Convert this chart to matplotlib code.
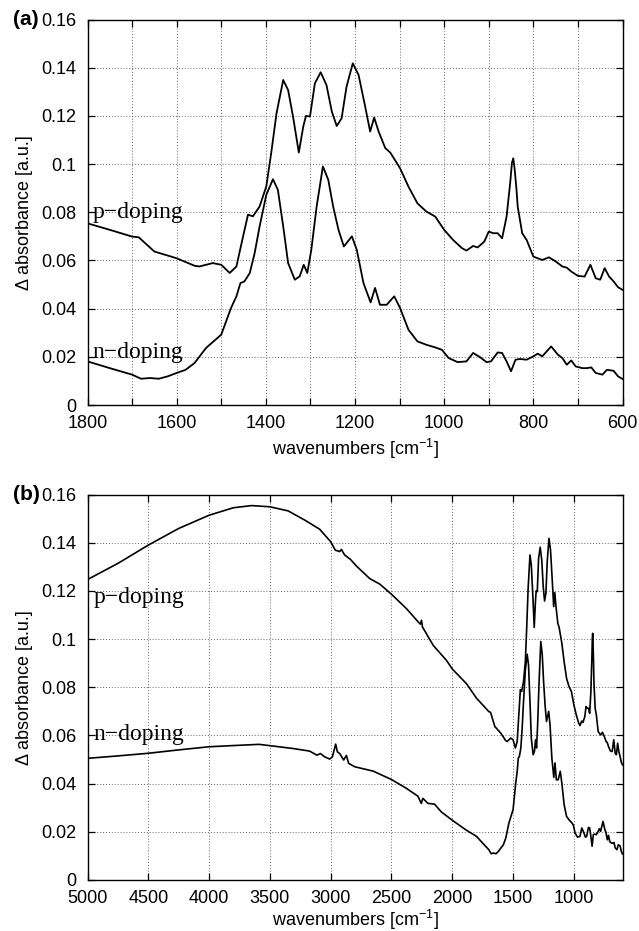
import numpy as np
import matplotlib
matplotlib.use("Agg")
import matplotlib.pyplot as plt
from matplotlib.ticker import MultipleLocator

plt.rcParams['font.family'] = ['Liberation Sans', 'DejaVu Sans']

# ---- data: panel (a) region 1800-600 cm^-1 ----
wn_p_lo = [1800, 1750, 1700, 1685, 1650, 1600, 1560, 1549, 1519, 1500, 1481, 1466, 1451, 1440,
           1429, 1414, 1399, 1388, 1376, 1361, 1350, 1339, 1326, 1316, 1310, 1301, 1290, 1277,
           1264, 1252, 1241, 1230, 1219, 1205, 1192, 1178, 1166, 1157, 1147, 1132, 1121, 1099,
           1080, 1060, 1040, 1020, 1000, 980, 960, 950, 935, 925, 910, 900, 890, 880, 870, 860,
           852, 848, 845, 842, 838, 835, 825, 815, 800, 780, 765, 750, 735, 725, 715, 700, 685,
           672, 660, 650, 640, 630, 620, 610, 600]
p_lo = [0.0754, 0.0727, 0.0699, 0.0696, 0.0637, 0.0609, 0.0578, 0.0575, 0.0589, 0.0582, 0.0548,
        0.0575, 0.0700, 0.0790, 0.0783, 0.0824, 0.0907, 0.1045, 0.1211, 0.1349, 0.1307, 0.1197,
        0.1048, 0.1156, 0.1200, 0.1197, 0.1335, 0.1381, 0.1328, 0.1218, 0.1158, 0.1190, 0.1321,
        0.1418, 0.1370, 0.1246, 0.1135, 0.1193, 0.1135, 0.1066, 0.1048, 0.0983, 0.0906, 0.0837,
        0.0803, 0.0782, 0.0727, 0.0685, 0.0651, 0.0641, 0.0660, 0.0654, 0.0678, 0.0720, 0.0713,
        0.0713, 0.0692, 0.0782, 0.0920, 0.1005, 0.1024, 0.0980, 0.0900, 0.0823, 0.0713, 0.0685,
        0.0616, 0.0602, 0.0613, 0.0596, 0.0575, 0.0570, 0.0554, 0.0536, 0.0533, 0.0582, 0.0526,
        0.0520, 0.0568, 0.0533, 0.0513, 0.0489, 0.0478]

wn_n_lo = [1800, 1750, 1700, 1680, 1660, 1640, 1620, 1600, 1580, 1560, 1534, 1500, 1478, 1466,
           1457, 1448, 1436, 1425, 1414, 1399, 1384, 1373, 1361, 1350, 1335, 1324, 1315, 1307,
           1298, 1286, 1272, 1260, 1249, 1237, 1225, 1207, 1196, 1181, 1165, 1155, 1144, 1129,
           1112, 1099, 1080, 1060, 1040, 1020, 1005, 990, 970, 950, 935, 920, 905, 895, 880, 870,
           860, 850, 840, 830, 815, 800, 790, 780, 760, 745, 735, 725, 715, 705, 690, 680, 670,
           660, 645, 635, 620, 610, 600]
n_lo = [0.0181, 0.0153, 0.0126, 0.0109, 0.0112, 0.0109, 0.0119, 0.0133, 0.0146, 0.0174, 0.0237,
        0.0292, 0.0403, 0.0451, 0.0506, 0.0513, 0.0548, 0.0631, 0.0741, 0.0872, 0.0937, 0.0893,
        0.0741, 0.0589, 0.0520, 0.0534, 0.0582, 0.0548, 0.0644, 0.0824, 0.0990, 0.0935, 0.0824,
        0.0727, 0.0658, 0.0700, 0.0644, 0.0506, 0.0426, 0.0486, 0.0416, 0.0416, 0.0451, 0.0403,
        0.0312, 0.0264, 0.0250, 0.0239, 0.0229, 0.0195, 0.0178, 0.0181, 0.0216, 0.0199, 0.0178,
        0.0181, 0.0218, 0.0216, 0.0181, 0.0140, 0.0188, 0.0191, 0.0188, 0.0202, 0.0213, 0.0202,
        0.0243, 0.0209, 0.0195, 0.0167, 0.0185, 0.0160, 0.0153, 0.0153, 0.0156, 0.0133, 0.0126,
        0.0146, 0.0142, 0.0119, 0.0108]

# ---- data: panel (b) extra region 5000-1800 cm^-1 ----
wn_p_hi = [5000, 4750, 4500, 4250, 4000, 3800, 3650, 3500, 3350, 3214, 3091, 3000, 2962, 2926,
           2912, 2885, 2849, 2838, 2788, 2679, 2596, 2500, 2376, 2280, 2262, 2253, 2245, 2157,
           2047, 2000, 1882]
p_hi = [0.1247, 0.1314, 0.1390, 0.1459, 0.1514, 0.1545, 0.1554, 0.1549, 0.1532, 0.1494, 0.1456,
        0.1404, 0.1369, 0.1363, 0.1372, 0.1349, 0.1335, 0.1331, 0.1303, 0.1251, 0.1228, 0.1186,
        0.1126, 0.1071, 0.1062, 0.1078, 0.1050, 0.0974, 0.0911, 0.0876, 0.0814]

wn_n_hi = [5000, 4750, 4500, 4250, 4000, 3800, 3588, 3313, 3173, 3113, 3085, 3049, 3008, 2986,
           2959, 2945, 2926, 2893, 2871, 2852, 2802, 2651, 2500, 2379, 2283, 2255, 2242, 2200,
           2146, 2091, 2000, 1885]
n_hi = [0.0505, 0.0515, 0.0526, 0.0540, 0.0553, 0.0558, 0.0563, 0.0546, 0.0535, 0.0518, 0.0525,
        0.0511, 0.0502, 0.0511, 0.0564, 0.0532, 0.0525, 0.0498, 0.0517, 0.0484, 0.0470, 0.0452,
        0.0417, 0.0381, 0.0348, 0.0318, 0.0339, 0.0318, 0.0315, 0.0283, 0.0248, 0.0207]

labels = ["p\u2212doping", "n\u2212doping"]
ylabel = "\u0394 absorbance [a.u.]"
xlabel = "wavenumbers [cm$^{\\mathregular{-1}}$]"

W, H = 639, 931
fig = plt.figure(figsize=(W / 100, H / 100), dpi=100)

L = 87.5 / W
Wd = (622.5 - 87.5) / W
ax_a = fig.add_axes([L, 1 - 405 / H, Wd, (405 - 19.5) / H])
ax_b = fig.add_axes([L, 1 - 880 / H, Wd, (880 - 494.5) / H])

lw = 1.3
ax_a.plot(wn_p_lo, p_lo, color='black', lw=lw)
ax_a.plot(wn_n_lo, n_lo, color='black', lw=lw)
ax_b.plot(wn_p_hi + wn_p_lo, p_hi + p_lo, color='black', lw=1.2)
ax_b.plot(wn_n_hi + wn_n_lo, n_hi + n_lo, color='black', lw=1.2)

ax_a.set_xlim(1800, 600)
ax_b.set_xlim(5000, 600)
ax_a.xaxis.set_major_locator(MultipleLocator(200))
ax_a.xaxis.set_minor_locator(MultipleLocator(100))
ax_b.xaxis.set_major_locator(MultipleLocator(500))

for ax in (ax_a, ax_b):
    ax.set_ylim(0, 0.16)
    ax.set_yticks([0, 0.02, 0.04, 0.06, 0.08, 0.1, 0.12, 0.14, 0.16])
    ax.set_yticklabels(['0', '0.02', '0.04', '0.06', '0.08', '0.1', '0.12', '0.14', '0.16'])
    ax.grid(True, which='both', linestyle=(0, (1, 2)), color='#666666', lw=0.7)
    ax.tick_params(which='both', direction='in', top=True, right=True, labelsize=13,
                   length=5, width=0.9)
    ax.tick_params(axis='x', pad=7)
    ax.tick_params(axis='y', pad=8)
    for s in ax.spines.values():
        s.set_linewidth(1.0)
    ax.set_ylabel(ylabel, fontsize=13, labelpad=6)

ax_a.set_xlabel(xlabel, fontsize=13, labelpad=4)
ax_b.set_xlabel(xlabel, fontsize=13, labelpad=1)

# curve labels
tfont = dict(family=['Liberation Serif', 'DejaVu Serif'], fontsize=17, va='baseline', ha='left')
ax_a.text(1789, 0.0775, labels[0], **tfont)
ax_a.text(1789, 0.0195, labels[1], **tfont)
ax_b.text(4952, 0.1150, labels[0], **tfont)
ax_b.text(4952, 0.0580, labels[1], **tfont)

fig.text(13 / W, 1 - 19.5 / H, "(a)", fontsize=15, fontweight='bold', va='center', ha='left')
fig.text(13 / W, 1 - 494.5 / H, "(b)", fontsize=15, fontweight='bold', va='center', ha='left')

fig.savefig("out.png", dpi=100)
